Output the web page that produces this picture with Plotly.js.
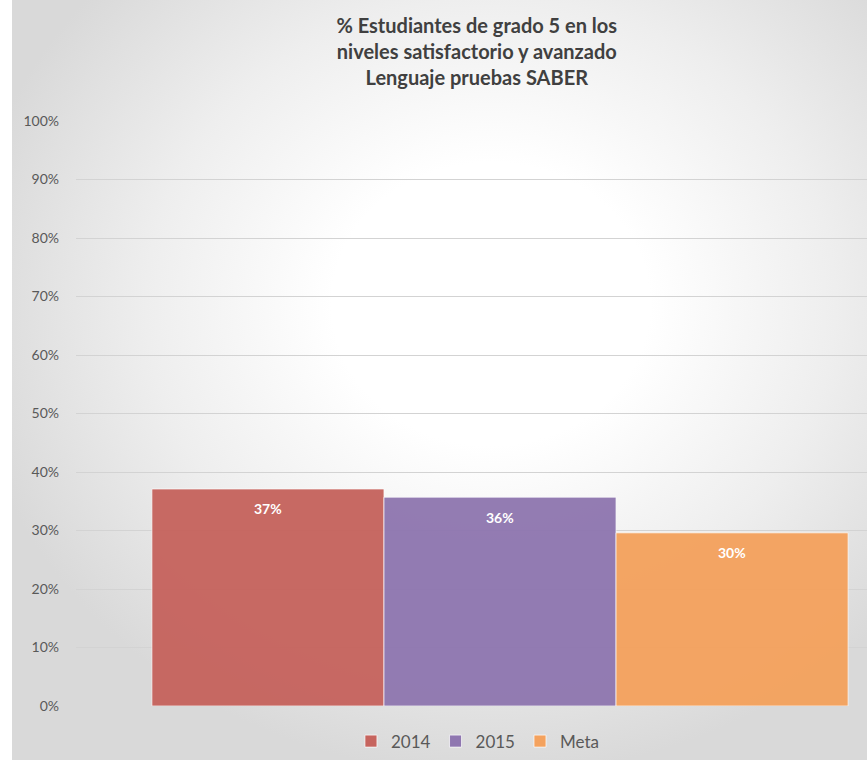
<!DOCTYPE html>
<html>
<head>
<meta charset="utf-8">
<script src="https://cdn.plot.ly/plotly-3.0.1.min.js"></script>
<style>
  html, body { margin: 0; padding: 0; background: #ffffff; overflow: hidden; width: 867px; height: 769px; }
  #frame {
    position: absolute; left: 12px; top: 0; width: 855px; height: 760px;
    background: radial-gradient(ellipse 62% 62% at 56% 40%, #ffffff 0%, #ffffff 30%, #eeeeee 65%, #d9d9d9 100%);
  }
  #chart { position: absolute; left: 0; top: 0; width: 924px; height: 769px; }
</style>
</head>
<body>
<div id="frame"></div>
<div id="chart"></div>
<script>
const category = ['Lenguaje'];
const seriesNames = ['2014', '2015', 'Meta'];
const seriesValues = [37.1, 35.7, 29.6];
const seriesLabels = ['37%', '36%', '30%'];
const seriesColors = ['#c6645e', '#8f77b0', '#f4a25e'];
const yTickVals = [0, 10, 20, 30, 40, 50, 60, 70, 80, 90, 100];
const yTickText = ['0%', '10%', '20%', '30%', '40%', '50%', '60%', '70%', '80%', '90%', '100%'];

const BARGAP = 0.179;
const nSeries = seriesNames.length;
const barWidth = (1 - BARGAP) / nSeries;

const traces = seriesNames.map((name, i) => ({
  type: 'bar',
  name: name,
  x: category,
  y: [seriesValues[i]],
  marker: { color: seriesColors[i], opacity: 0.96, line: { color: 'rgba(255,255,255,0.7)', width: 1 } },
  hoverinfo: 'none'
}));

// data labels placed at each bar's centre, derived from the grouping parameters
const annotations = seriesNames.map((name, i) => ({
  x: 0 + (i - (nSeries - 1) / 2) * barWidth,
  y: seriesValues[i],
  xref: 'x', yref: 'y',
  text: '<b>' + seriesLabels[i] + '</b>',
  showarrow: false,
  yanchor: 'middle',
  yshift: -20,
  font: { family: 'Lato, sans-serif', size: 14, color: '#ffffff' }
}));

const layout = {
  width: 924,
  height: 769,
  paper_bgcolor: 'rgba(0,0,0,0)',
  plot_bgcolor: 'rgba(0,0,0,0)',
  margin: { l: 76, r: 0, t: 121, b: 63 },
  barmode: 'group',
  bargap: BARGAP,
  bargroupgap: 0,
  showlegend: true,
  annotations: annotations,
  title: {
    text: '<b>% Estudiantes de grado 5 en los<br>niveles satisfactorio y avanzado<br>Lenguaje pruebas SABER</b>',
    font: { family: 'Lato, sans-serif', size: 20, color: '#404040' },
    x: 0.516, xref: 'container', xanchor: 'center',
    y: 0.957, yref: 'container', yanchor: 'middle'
  },
  xaxis: {
    showticklabels: false, showgrid: false, zeroline: false, showline: false, ticks: ''
  },
  yaxis: {
    range: [0, 100],
    tickvals: yTickVals,
    ticktext: yTickText,
    showgrid: true,
    gridcolor: '#d3d3d3',
    gridwidth: 1,
    zeroline: false,
    showline: false,
    ticks: '',
    ticklen: 0,
    ticklabelstandoff: 16,
    tickfont: { family: 'Lato, sans-serif', size: 14, color: '#595959' }
  },
  legend: {
    orientation: 'h',
    x: 0.474, xref: 'paper', xanchor: 'center',
    y: -0.03, yanchor: 'top',
    font: { family: 'Lato, sans-serif', size: 17, color: '#595959' },
    itemwidth: 30,
    traceorder: 'normal'
  }
};

Plotly.newPlot('chart', traces, layout, { displayModeBar: false, staticPlot: true });
</script>
</body>
</html>
